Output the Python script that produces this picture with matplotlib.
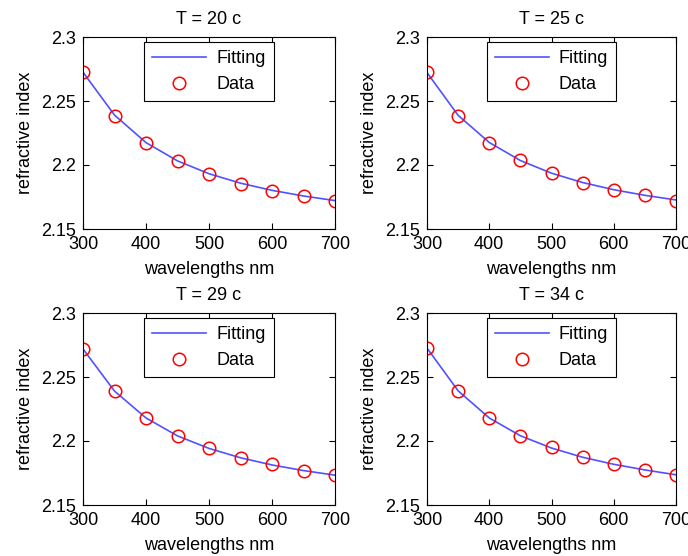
import matplotlib
matplotlib.use("Agg")
import matplotlib.pyplot as plt

plt.rcParams['font.family'] = ['Liberation Sans', 'DejaVu Sans']

wavelengths = [300, 350, 400, 450, 500, 550, 600, 650, 700]
titles = ["T = 20 c", "T = 25 c", "T = 29 c", "T = 34 c"]

data_20 = [2.2729, 2.2385, 2.2174, 2.2034, 2.1927, 2.1854, 2.1799, 2.1760, 2.1716]
data_25 = [2.2725, 2.2385, 2.2175, 2.2037, 2.1938, 2.1863, 2.1804, 2.1765, 2.1718]
data_29 = [2.2719, 2.2389, 2.2179, 2.2041, 2.1945, 2.1869, 2.1820, 2.1765, 2.1731]
data_34 = [2.2730, 2.2389, 2.2179, 2.2041, 2.1950, 2.1874, 2.1822, 2.1776, 2.1734]

fit_20 = [2.2725, 2.2390, 2.2175, 2.2032, 2.1932, 2.1858, 2.1802, 2.1758, 2.1722]
fit_25 = [2.2722, 2.2388, 2.2176, 2.2035, 2.1936, 2.1863, 2.1807, 2.1763, 2.1727]
fit_29 = [2.2719, 2.2390, 2.2180, 2.2040, 2.1942, 2.1869, 2.1813, 2.1769, 2.1733]
fit_34 = [2.2726, 2.2392, 2.2180, 2.2041, 2.1945, 2.1873, 2.1818, 2.1774, 2.1736]

datas = [data_20, data_25, data_29, data_34]
fits = [fit_20, fit_25, fit_29, fit_34]

xticks = [300, 400, 500, 600, 700]
yticks = [2.15, 2.2, 2.25, 2.3]
ytick_labels = ["2.15", "2.2", "2.25", "2.3"]

W, H = 688, 556
fig = plt.figure(figsize=(W / 100, H / 100), dpi=100)

# axes boxes in pixels: (left, top, right, bottom)
boxes = [(83, 37, 335, 229), (427, 37, 676, 229),
         (83, 313, 335, 505), (427, 313, 676, 505)]

fs = 13
for i, (l, t, r, b) in enumerate(boxes):
    ax = fig.add_axes([l / W, 1 - b / H, (r - l) / W, (b - t) / H])
    ax.plot(wavelengths, fits[i], color='#3333ff', lw=1.2, label='Fitting', alpha=0.85)
    ax.plot(wavelengths, datas[i], 'o', mfc='none', mec='#ff0000', mew=1.1, ms=9,
            label='Data', linestyle='none')
    ax.set_xlim(300, 700)
    ax.set_ylim(2.15, 2.3)
    ax.set_xticks(xticks)
    ax.set_xticklabels([str(v) for v in xticks])
    ax.set_yticks(yticks)
    ax.set_yticklabels(ytick_labels)
    ax.tick_params(direction='in', length=4, width=0.8, top=True, right=True,
                   labelsize=fs, colors='black')
    ax.tick_params(axis='x', pad=5)
    ax.tick_params(axis='y', pad=5)
    for s in ax.spines.values():
        s.set_linewidth(0.8)
    ax.set_title(titles[i], fontsize=fs, pad=9)
    ax.set_xlabel('wavelengths nm', fontsize=fs, labelpad=6)
    ax.set_ylabel('refractive index', fontsize=fs, labelpad=5)
    leg = ax.legend(loc='upper center', bbox_to_anchor=(0.5, 0.975), fontsize=fs,
                    frameon=True, fancybox=False, edgecolor='black', framealpha=1,
                    handlelength=3.0, borderpad=0.45, labelspacing=0.5,
                    handletextpad=0.55, borderaxespad=0)
    leg.get_frame().set_linewidth(0.8)

fig.savefig('out.png', dpi=100)
